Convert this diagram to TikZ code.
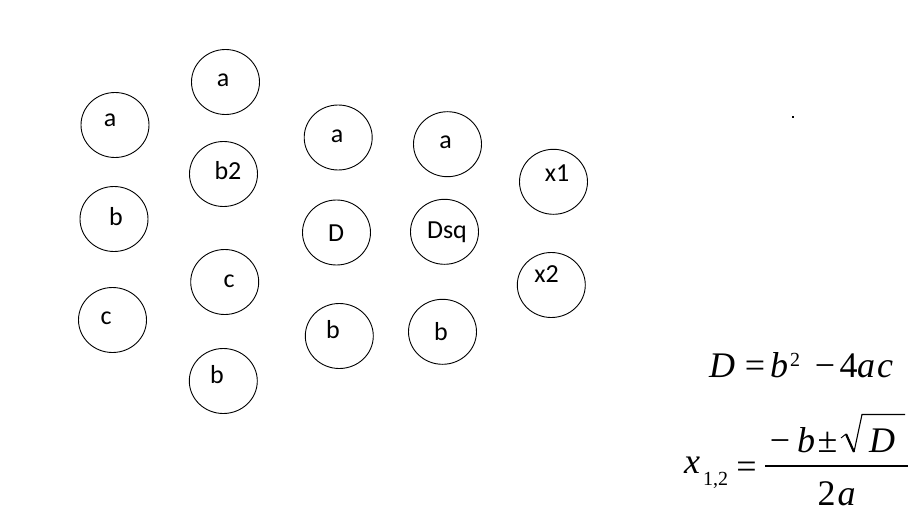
\documentclass[tikz,border=0pt]{standalone}
\usepackage{fontspec}
\newfontfamily\labfont{Carlito}
\newfontfamily\eqfont{Liberation Serif}
\usetikzlibrary{shapes.geometric}
\tikzset{
  bub/.style={draw=black, line width=0.9pt, ellipse, minimum width=68pt, minimum height=65pt, inner sep=0pt},
  lab/.style={anchor=base, inner sep=0pt, font=\labfont\fontsize{26}{30}\selectfont},
  eqc/.style={inner sep=0pt, anchor=base, font=\eqfont\fontsize{36}{40}\selectfont},
  eqi/.style={eqc, font=\eqfont\fontsize{36}{40}\selectfont\itshape},
  eqs/.style={inner sep=0pt, anchor=base, font=\eqfont\fontsize{20}{24}\selectfont}
}
\begin{document}
\begin{tikzpicture}[x=1pt,y=-1pt]
\useasboundingbox[fill=white] (0,0) rectangle (922,519);
% column 1
\node[bub] (c1a) at (115,125) {};
\node[bub] (c1b) at (114,219) {};
\node[bub] (c1c) at (112.5,320) {};
\node[lab] (t1a) at (110,126) {a};
\node[lab] (t1b) at (116,225) {b};
\node[lab] (t1c) at (106,324) {c};
% column 2
\node[bub] (c2a) at (225.5,82) {};
\node[bub] (c2b2) at (223.5,174) {};
\node[bub] (c2c) at (224.7,282) {};
\node[bub] (c2b) at (223.3,381) {};
\node[lab] (t2a) at (223,87) {a};
\node[lab] (t2b2) at (228,179.5) {b2};
\node[lab] (t2c) at (229,287) {c};
\node[lab] (t2b) at (217,383.5) {b};
% column 3
\node[bub] (c3a) at (338.2,137.5) {};
\node[bub] (c3D) at (336.5,232.5) {};
\node[bub] (c3b) at (339.3,336) {};
\node[lab] (t3a) at (337,142.5) {a};
\node[lab] (t3D) at (336,241.5) {D};
\node[lab] (t3b) at (333,338.5) {b};
% column 4
\node[bub] (c4a) at (447.5,144.2) {};
\node[bub] (c4Dsq) at (444.5,231.8) {};
\node[bub] (c4b) at (442.5,331.8) {};
\node[lab] (t4a) at (445.5,148.5) {a};
\node[lab] (t4Dsq) at (447,238.5) {Dsq};
\node[lab] (t4b) at (441,340.5) {b};
% column 5
\node[bub] (c5x1) at (553.5,181.8) {};
\node[bub] (c5x2) at (551.3,285) {};
\node[lab] (t5x1) at (557,181) {x1};
\node[lab] (t5x2) at (546.5,282) {x2};
% stray dot
\fill (792,116) rectangle (794,118);
% formula D = b^2 - 4ac
\node[eqi] (fD) at (722,377) {D};
\node[eqc] (fDeq) at (755,377) {=};
\node[eqi] (fDb) at (779,377) {b};
\node[eqs] (fDsup) at (795,366) {2};
\node[eqc] (fDminus) at (825,377) {−};
\node[eqc] (fD4) at (848.5,377) {4};
\node[eqi] (fDa) at (866,377) {a};
\node[eqi] (fDc) at (885,377) {c};
% formula x_{1,2}
\node[eqi] (fx) at (692,473) {x};
\node[eqs, anchor=base west] (fxsub) at (703,485) {1,2};
\node[eqc] (fxeq) at (746.5,478) {=};
\node[eqc] (fnm) at (780,452) {−};
\node[eqi] (fnb) at (806,452) {b};
\node[eqc] (fnpm) at (827.5,452) {±};
\node[eqi] (fnD) at (882,452) {D};
\coordinate (r1) at (841,438);
\coordinate (r2) at (846,434);
\coordinate (r3) at (854,452);
\coordinate (r4) at (862,414.5);
\coordinate (r5) at (905,414.5);
\draw[line width=0.9pt, line join=miter] (r1) -- (r2);
\draw[line width=2.2pt] (r2) -- (r3);
\draw[line width=1.1pt, line join=miter] (r3) -- (r4) -- (r5);
\node[eqc] (fd2) at (826.5,505) {2};
\node[eqi] (fda) at (846.5,505) {a};
\draw[line width=1.5pt] (765,466) -- (908,466);
\end{tikzpicture}
\end{document}
